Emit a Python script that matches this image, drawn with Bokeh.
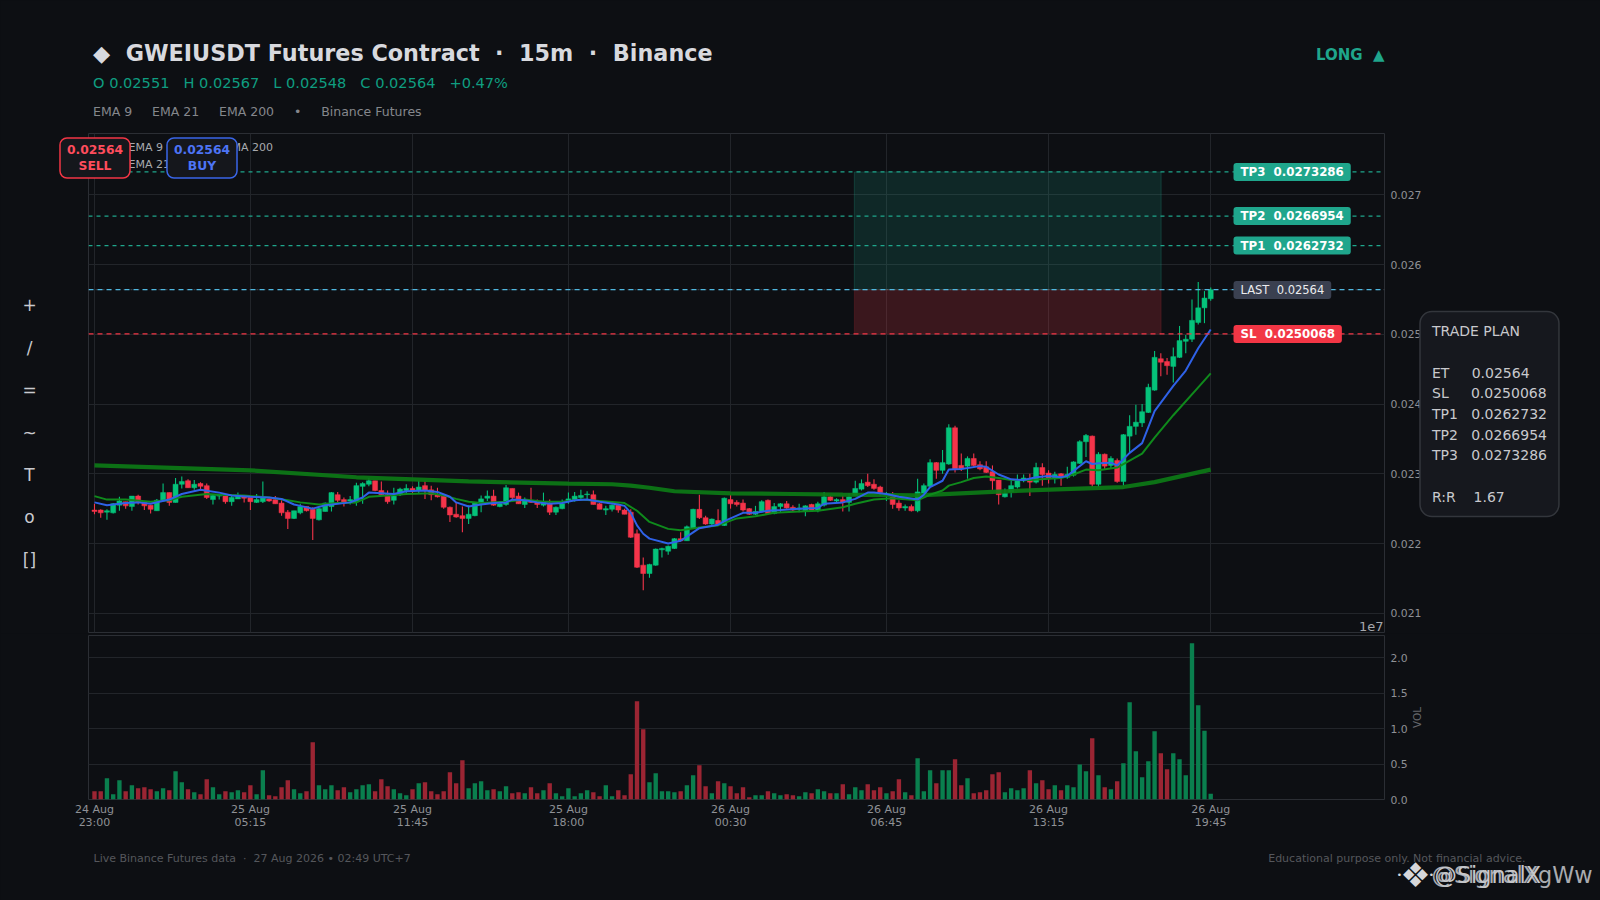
from bokeh.plotting import figure
from bokeh.layouts import column
from bokeh.models import Label, Span, FixedTicker, NumeralTickFormatter, ColumnDataSource
from bokeh.embed import file_html
from bokeh.resources import INLINE
import math, re

# ---- data (prices in units of 0.00001) ----
opens_e5 = [2248,2248,2245,2244,2255,2260,2253,2268,2259,2255,
2247,2262,2273,2259,2285,2290,2280,2286,2283,2263,
2268,2268,2260,2264,2268,2266,2259,2260,2264,2263,
2258,2245,2236,2244,2253,2249,2234,2246,2253,2270,
2263,2261,2260,2282,2285,2290,2276,2270,2262,2270,
2276,2279,2276,2283,2277,2270,2268,2252,2242,2240,
2236,2240,2258,2265,2268,2253,2256,2279,2268,2256,
2260,2260,2255,2257,2245,2250,2261,2263,2266,2270,
2270,2257,2248,2249,2255,2248,2245,2214,2169,2157,
2169,2191,2189,2193,2207,2204,2222,2249,2237,2228,
2233,2226,2263,2259,2258,2250,2242,2246,2262,2243,
2253,2257,2252,2249,2247,2256,2247,2255,2267,2261,
2263,2259,2269,2278,2288,2285,2281,2269,2268,2258,
2251,2253,2247,2272,2282,2316,2305,2314,2366,2312,
2311,2322,2313,2310,2303,2291,2267,2274,2281,2290,
2292,2288,2309,2301,2293,2300,2295,2298,2315,2346,
2354,2285,2328,2312,2319,2289,2354,2368,2373,2388,
2420,2465,2461,2454,2467,2490,2493,2517,2538,2551]
highs_e5 = [2257,2249,2249,2258,2267,2260,2268,2270,2260,2255,
2264,2286,2273,2294,2296,2292,2291,2288,2286,2270,
2271,2269,2268,2273,2269,2266,2271,2289,2266,2268,
2262,2248,2247,2257,2253,2252,2251,2259,2274,2274,
2266,2268,2287,2288,2294,2290,2289,2276,2280,2280,
2285,2282,2290,2290,2283,2280,2268,2253,2258,2253,
2255,2258,2269,2276,2277,2261,2284,2279,2273,2266,
2280,2263,2273,2263,2253,2263,2273,2274,2277,2275,
2276,2258,2254,2256,2255,2250,2249,2220,2180,2171,
2193,2194,2197,2208,2216,2226,2250,2270,2240,2236,
2249,2266,2270,2262,2263,2251,2254,2262,2263,2258,
2258,2261,2255,2257,2255,2257,2260,2274,2269,2265,
2269,2272,2290,2292,2300,2292,2283,2274,2274,2262,
2256,2256,2293,2286,2321,2317,2334,2371,2369,2329,
2325,2329,2318,2318,2312,2291,2279,2290,2299,2299,
2300,2316,2315,2305,2303,2301,2310,2318,2348,2357,
2355,2331,2329,2325,2322,2357,2384,2399,2400,2429,
2476,2473,2466,2481,2512,2499,2550,2575,2562,2567]
lows_e5 = [2242,2237,2234,2243,2247,2250,2247,2256,2248,2243,
2247,2261,2254,2259,2279,2280,2277,2276,2264,2256,
2263,2257,2254,2264,2259,2248,2258,2258,2260,2257,
2240,2221,2235,2242,2246,2205,2233,2246,2246,2258,
2253,2256,2254,2257,2282,2275,2269,2257,2256,2268,
2272,2271,2271,2264,2262,2266,2250,2231,2237,2216,
2228,2239,2245,2261,2254,2252,2254,2264,2257,2251,
2258,2251,2253,2241,2241,2249,2257,2260,2263,2264,
2256,2249,2241,2246,2244,2242,2208,2165,2133,2151,
2168,2180,2184,2192,2203,2204,2221,2235,2227,2225,
2226,2225,2250,2253,2246,2241,2241,2245,2242,2242,
2245,2250,2246,2245,2239,2246,2245,2253,2261,2258,
2246,2246,2269,2276,2281,2277,2268,2261,2250,2247,
2247,2246,2245,2271,2281,2293,2300,2313,2302,2304,
2293,2310,2305,2301,2277,2256,2266,2266,2279,2288,
2268,2286,2283,2286,2286,2283,2293,2296,2314,2324,
2281,2281,2307,2307,2287,2283,2331,2356,2367,2387,
2419,2440,2442,2431,2466,2473,2489,2514,2516,2548]
closes_e5 = [2246,2244,2247,2257,2261,2254,2268,2260,2254,2249,
2262,2273,2259,2285,2289,2280,2285,2282,2266,2269,
2269,2260,2266,2268,2265,2260,2263,2266,2261,2257,
2244,2236,2247,2253,2247,2236,2250,2258,2273,2262,
2258,2263,2283,2286,2290,2276,2270,2260,2268,2278,
2279,2275,2281,2276,2270,2267,2252,2241,2238,2236,
2242,2258,2264,2268,2255,2257,2280,2266,2257,2261,
2259,2256,2259,2245,2252,2257,2264,2268,2269,2271,
2256,2249,2250,2255,2248,2242,2209,2166,2157,2170,
2192,2193,2196,2207,2204,2224,2249,2237,2228,2235,
2227,2265,2257,2256,2248,2242,2246,2260,2243,2253,
2257,2251,2248,2251,2254,2248,2257,2267,2262,2263,
2259,2267,2279,2286,2283,2279,2273,2271,2256,2251,
2253,2247,2274,2283,2316,2305,2316,2366,2307,2307,
2322,2312,2307,2302,2290,2270,2272,2283,2290,2294,
2288,2309,2299,2293,2299,2295,2299,2317,2346,2355,
2285,2328,2311,2322,2289,2356,2368,2374,2389,2424,
2467,2460,2455,2468,2491,2493,2520,2538,2552,2564]
volumes = [.117,.117,.300,.075,.272,.117,.202,.160,.174,.146,
.117,.160,.131,.399,.244,.146,.103,.075,.286,.174,
.075,.117,.103,.131,.103,.202,.075,.413,.061,.047,
.174,.272,.146,.089,.117,.808,.202,.146,.202,.131,
.174,.103,.146,.202,.216,.117,.286,.188,.146,.089,
.061,.146,.230,.244,.117,.075,.117,.385,.230,.554,
.160,.230,.258,.131,.146,.117,.188,.089,.103,.089,
.174,.089,.131,.230,.089,.047,.160,.047,.089,.131,
.103,.047,.202,.047,.131,.061,.357,1.385,.991,.244,
.371,.117,.117,.103,.117,.202,.343,.484,.188,.089,
.258,.230,.188,.089,.174,.033,.061,.061,.117,.089,
.061,.075,.061,.047,.103,.089,.146,.117,.089,.089,
.216,.075,.174,.131,.216,.131,.174,.089,.117,.286,
.103,.061,.582,.117,.413,.230,.413,.413,.568,.202,
.300,.089,.103,.131,.357,.385,.103,.160,.131,.160,
.413,.230,.272,.146,.202,.131,.202,.174,.493,.399,
.864,.343,.174,.146,.258,.512,1.371,.681,.315,.540,
.962,.653,.427,.653,.568,.343,2.202,1.329,.970,.080]

ema9_idx = [0,2,5,7,9,12,14,17,20,22,25,28,30,32,33,35,37,41,43,44,46,48,50,53,55,57,58,60,62,64,66,67,69,71,73,75,77,79,81,84,85,86,87,88,89,92,94,96,97,100,101,104,106,108,110,113,116,117,120,122,124,125,127,129,132,133,134,136,137,139,142,143,145,147,149,151,153,155,156,159,160,161,163,164,166,168,169,170,173,175,177,179]
ema9_e5 = [2259,2255,2258,2259,2257,2263,2271,2277,2273,2269,2267,2266,2264,2256,2254,2250,2255,2259,2266,2273,2272,2271,2275,2276,2274,2267,2259,2253,2256,2258,2259,2263,2262,2259,2257,2258,2262,2263,2260,2256,2254,2244,2226,2214,2207,2200,2204,2216,2222,2227,2232,2244,2244,2247,2248,2250,2251,2257,2259,2264,2273,2273,2271,2267,2263,2270,2281,2290,2306,2307,2311,2310,2299,2292,2291,2295,2297,2295,2297,2318,2314,2315,2316,2312,2330,2344,2367,2390,2426,2448,2480,2507]
ema21_idx = [0,2,5,9,12,14,18,20,24,28,31,33,36,39,42,44,47,50,54,56,58,60,62,66,69,72,75,78,81,84,85,87,89,92,94,97,100,103,106,109,113,116,120,122,125,128,132,134,136,137,139,141,143,145,147,150,153,155,157,159,161,164,168,170,173,177,179]
ema21_e5 = [2268,2263,2263,2260,2262,2267,2271,2270,2269,2266,2262,2259,2256,2258,2259,2267,2269,2271,2272,2269,2264,2260,2258,2260,2263,2260,2260,2263,2261,2259,2258,2247,2231,2221,2219,2223,2226,2236,2239,2244,2246,2247,2252,2257,2263,2265,2262,2270,2276,2283,2288,2294,2296,2294,2291,2291,2293,2294,2299,2306,2305,2309,2329,2352,2384,2424,2444]
ema200_idx = [0,25,42,60,76,83,86,89,93,102,112,120,132,144,152,165,170,177,179]
ema200_e5 = [2312,2305,2295,2289,2286,2285,2283,2280,2275,2272,2271,2270,2269,2274,2277,2281,2288,2302,2306]

tick_idx = [0,25,51,76,102,127,153,179]
tick_labels = ["24 Aug\n23:00","25 Aug\n05:15","25 Aug\n11:45","25 Aug\n18:00","26 Aug\n00:30","26 Aug\n06:45","26 Aug\n13:15","26 Aug\n19:45"]
price_ticks = [0.021,0.022,0.023,0.024,0.025,0.026,0.027]
vol_ticks = [0,0.5,1.0,1.5,2.0]
tp1, tp2, tp3, sl, last_price = 0.0262732, 0.0266954, 0.0273286, 0.0250068, 0.02564
zone_start, zone_end = 121.85, 171.05

# ---- colours ----
BG = "#0d0f13"; GRID = "#22252a"; FRAME = "#2b2e34"; AX = "#8f9196"
UP = "#05c27a"; DN = "#f5344a"; TEAL = "#1fa68c"; RED = "#f23645"; BLUE = "#2f62e8"
FONT = "DejaVu Sans"

xs = list(range(len(opens_e5)))
op = [v/1e5 for v in opens_e5]; hi = [v/1e5 for v in highs_e5]
lo = [v/1e5 for v in lows_e5]; cl = [v/1e5 for v in closes_e5]
col = [UP if c >= o else DN for o, c in zip(op, cl)]
vcol = ["#0a7f4e" if c >= o else "#9b2533" for o, c in zip(op, cl)]
src = ColumnDataSource(dict(x=xs, o=op, h=hi, l=lo, c=cl, top=[max(a, b) for a, b in zip(op, cl)],
                            bot=[min(a, b) for a, b in zip(op, cl)], col=col, vcol=vcol, v=volumes))

XR = (-0.96, 206.87)
W, H = 1600, 900
F_LEFT, F_RIGHT = 88, 1384

def style(p):
    p.background_fill_color = BG
    p.border_fill_color = BG
    p.outline_line_color = FRAME
    p.yaxis.axis_line_color = None
    p.yaxis.major_tick_line_color = None
    p.yaxis.minor_tick_line_color = None
    p.yaxis.major_tick_out = 0
    p.yaxis.major_label_text_color = AX
    p.yaxis.major_label_text_font = FONT
    p.yaxis.major_label_text_font_size = "10.8px"
    p.yaxis.major_label_standoff = 6
    p.ygrid.grid_line_color = GRID

p1 = figure(width=W, height=633, x_range=XR, y_range=(0.020724, 0.02788), y_axis_location="right",
            output_backend="svg", toolbar_location=None, min_border_left=F_LEFT,
            min_border_right=W-F_RIGHT, min_border_top=133, min_border_bottom=1)
style(p1)
p1.xaxis.visible = False
p1.xgrid.ticker = FixedTicker(ticks=tick_idx)
p1.xgrid.grid_line_color = GRID
p1.yaxis.ticker = FixedTicker(ticks=price_ticks)
p1.ygrid.ticker = FixedTicker(ticks=price_ticks)
p1.yaxis.formatter = NumeralTickFormatter(format="0.000")

p1.quad(left=[zone_start], right=[zone_end], bottom=[last_price], top=[tp3], fill_color=TEAL, fill_alpha=0.17,
        line_color=TEAL, line_alpha=0.25)
p1.quad(left=[zone_start], right=[zone_end], bottom=[sl], top=[last_price], fill_color=RED, fill_alpha=0.2,
        line_color=RED, line_alpha=0.15)
p1.segment(x0="x", x1="x", y0="l", y1="h", line_color="col", line_width=1.1, source=src)
p1.vbar(x="x", width=0.8, top="top", bottom="bot", fill_color="col", line_color="col", line_width=0.5, source=src)
p1.line(ema200_idx, [v/1e5 for v in ema200_e5], line_color="#0c7a16", line_width=4.2, line_alpha=0.92)
p1.line(ema21_idx, [v/1e5 for v in ema21_e5], line_color="#0f8a1c", line_width=2)
p1.line(ema9_idx, [v/1e5 for v in ema9_e5], line_color=BLUE, line_width=2)

for lvl in (tp1, tp2, tp3):
    p1.add_layout(Span(location=lvl, dimension="width", line_color=TEAL, line_width=1.2, line_dash="4 4"))
p1.add_layout(Span(location=last_price, dimension="width", line_color="#aab0b8", line_width=1, line_dash="2 5", line_alpha=0.35))
p1.add_layout(Span(location=last_price, dimension="width", line_color="#4fb7e0", line_width=1.2, line_dash="5 4"))
p1.add_layout(Span(location=sl, dimension="width", line_color=RED, line_width=1.2, line_dash="5 4"))

# volume
p2 = figure(width=W, height=267, x_range=p1.x_range, y_range=(0, 2.31), y_axis_location="right",
            output_backend="svg", toolbar_location=None, min_border_left=F_LEFT,
            min_border_right=W-F_RIGHT, min_border_top=2, min_border_bottom=101)
style(p2)
p2.xgrid.visible = False
p2.yaxis.ticker = FixedTicker(ticks=vol_ticks)
p2.ygrid.ticker = FixedTicker(ticks=vol_ticks)
p2.yaxis.formatter = NumeralTickFormatter(format="0.0")
p2.xaxis.ticker = FixedTicker(ticks=tick_idx)
p2.xaxis.major_label_overrides = dict(zip(tick_idx, tick_labels))
p2.xaxis.axis_line_color = None
p2.xaxis.major_tick_line_color = None
p2.xaxis.minor_tick_line_color = None
p2.xaxis.major_tick_out = 0
p2.xaxis.major_label_text_color = AX
p2.xaxis.major_label_text_font = FONT
p2.xaxis.major_label_text_font_size = "11px"
p2.xaxis.major_label_text_line_height = 1.05
p2.xaxis.major_label_standoff = 3
p2.vbar(x="x", width=0.7, top="v", bottom=0, fill_color="vcol", line_color=None, source=src)

# transparent full-page overlay that carries every page-level text
ov = figure(width=W, height=H, x_range=(0, W), y_range=(0, H), x_axis_location=None, y_axis_location=None,
            output_backend="svg", toolbar_location=None, min_border=0,
            background_fill_color=None, border_fill_color=None, outline_line_color=None,
            styles={"position": "absolute", "top": "0px", "left": "0px", "pointer-events": "none"})
ov.grid.visible = False

def pre(s):
    return re.sub(r" {2,}", lambda m: "\u00a0"*len(m.group()), s)

def T(X, Y, text, size, color, bold=False, align="left", base="middle", **kw):
    ov.add_layout(Label(x=X, y=H-Y, x_units="screen", y_units="screen", text=pre(text), text_color=color,
                        text_font=FONT, text_font_size=f"{size}px", text_font_style="bold" if bold else "normal",
                        text_align=align, text_baseline=base, **kw))

# header
T(92.5, 52, "◆  GWEIUSDT Futures Contract  ·  15m  ·  Binance", 22.3, "#d8d9de", bold=True)
T(92.5, 82, "O 0.02551   H 0.02567   L 0.02548   C 0.02564   +0.47%", 14.6, "#0f9d80")
T(92.5, 111, "EMA 9     EMA 21     EMA 200     •     Binance Futures", 12.5, "#85878c")
T(1384, 54, "LONG  ▲", 15, TEAL, bold=True, align="right")

# legend remnants
T(128, 147, "EMA 9", 11, "#a8aaae")
T(128, 164, "EMA 21", 11, "#a8aaae")
T(224, 147, "EMA 200", 11, "#a8aaae")

box = dict(background_fill_color="#15171c", border_line_width=1.5, border_radius=7, text_line_height=1.15)
T(94.5, 157.5, "0.02564\nSELL", 12.3, "#ff4d5c", bold=True, align="center", padding=(7, 5), border_line_color=RED, **box)
T(201.5, 157.5, "0.02564\nBUY", 12.3, "#4d74f5", bold=True, align="center", padding=(7, 5), border_line_color="#3a66e8", **box)

# left tools
for y, s in zip([304, 347, 389, 432, 474, 516, 559], ["+", "/", "=", "~", "T", "o", "[]"]):
    T(29, y, s, 17, "#c9cacf", align="center")

# level tags
tag = dict(border_radius=3, padding=(7, 2))
T(1233, 171.5, "TP3  0.0273286", 11.8, "#ffffff", bold=True, background_fill_color=TEAL, **tag)
T(1233, 215.5, "TP2  0.0266954", 11.8, "#ffffff", bold=True, background_fill_color=TEAL, **tag)
T(1233, 245, "TP1  0.0262732", 11.8, "#ffffff", bold=True, background_fill_color=TEAL, **tag)
T(1233, 289.5, "LAST  0.02564", 11.5, "#ececee", background_fill_color="#3a4050", **tag)
T(1233, 333.5, "SL  0.0250068", 11.8, "#ffffff", bold=True, background_fill_color=RED, **tag)

T(1383, 626, "1e7", 13, "#a6a8ad", align="right")

plan = "TRADE PLAN\n\nET     0.02564\nSL     0.0250068\nTP1   0.0262732\nTP2   0.0266954\nTP3   0.0273286\n\nR:R    1.67"
T(1419.5, 413.5, plan, 14, "#c8c9cd", padding=(12, 12), background_fill_color="#16181e",
  border_line_color="#33363c", border_line_width=1.5, border_radius=12, text_line_height=1.29)

T(1416, 717, "VOL", 10.5, "#65676c", align="center", angle=math.pi/2)
T(93, 858, "Live Binance Futures data  ·  27 Aug 2026 • 02:49 UTC+7", 11, "#55575c")
T(1525, 858, "Educational purpose only. Not financial advice.", 11, "#55575c", align="right")
T(1415, 874, "❖", 34, "#d6d7da", align="center")
T(1399, 874, "•", 9, "#d6d7da", align="center")
T(1431, 874, "•", 9, "#d6d7da", align="center")
T(1431, 874, "@SignalXgWw", 22.4, "#a9abb0")
T(1434, 874, "@SignalX", 22.4, "#c4c6ca")

layout = column(p1, p2, spacing=0)
html = file_html([layout, ov], INLINE, title="GWEIUSDT")
html = html.replace("</head>", f"<style>html,body{{background:{BG};margin:0;}}</style></head>", 1)
open("out.html", "w").write(html)
